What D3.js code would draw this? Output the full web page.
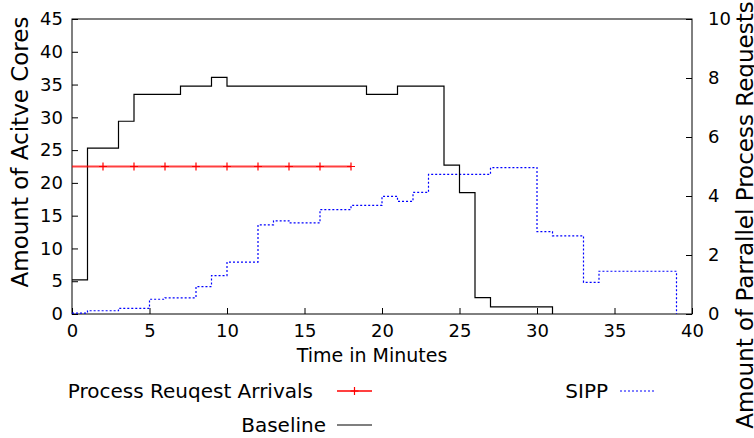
<!DOCTYPE html>
<html>
<head>
<meta charset="utf-8">
<script src="https://cdn.jsdelivr.net/npm/d3@7"></script>
<style>
  body { margin: 0; background: #fff; }
  svg text { font-family: "DejaVu Sans", sans-serif; fill: #000; }
</style>
</head>
<body>
<svg id="chart" width="754" height="438"></svg>
<script>
// minutes at which each step starts
var baselineTime = [0, 1, 3, 4, 7, 9, 10, 19, 21, 24, 25, 26, 27, 31];
var baselineCores = [5.2, 25.3, 29.4, 33.5, 34.75, 36.1, 34.75, 33.5, 34.75, 22.7, 18.5, 2.5, 1.1, 0];

var sippTime = [0, 1, 3, 5, 6, 8, 9, 10, 12, 13, 14, 16, 18, 20, 21, 22, 23, 27, 30, 31, 33, 34, 39];
var sippRequests = [0.03, 0.11, 0.19, 0.5, 0.55, 0.93, 1.3, 1.76, 3.02, 3.16, 3.09, 3.54, 3.68, 3.99, 3.82, 4.12, 4.73, 4.96, 2.79, 2.65, 1.07, 1.45, 0];

var arrivalTime = [0, 2, 4, 6, 8, 10, 12, 14, 16, 18];
var arrivalRequests = [5, 5, 5, 5, 5, 5, 5, 5, 5, 5];

var xTicks = [0, 5, 10, 15, 20, 25, 30, 35, 40];
var yTicks = [0, 5, 10, 15, 20, 25, 30, 35, 40, 45];
var y2Ticks = [0, 2, 4, 6, 8, 10];

var svg = d3.select("#chart");
var plotLeft = 72, plotRight = 692, plotTop = 19, plotBottom = 314;

var x = d3.scaleLinear().domain([0, 40]).range([plotLeft, plotRight]);
var y = d3.scaleLinear().domain([0, 45]).range([plotBottom, plotTop]);
var y2 = d3.scaleLinear().domain([0, 10]).range([plotBottom, plotTop]);

// axes, ticks pointing inward like gnuplot
var xAxis = svg.append("g")
    .attr("transform", "translate(0," + plotBottom + ")")
    .call(d3.axisBottom(x).tickValues(xTicks).tickSize(-6).tickPadding(10));
var yAxis = svg.append("g")
    .attr("transform", "translate(" + plotLeft + ",0)")
    .call(d3.axisLeft(y).tickValues(yTicks).tickSize(-6).tickPadding(9));
var y2Axis = svg.append("g")
    .attr("transform", "translate(" + plotRight + ",0)")
    .call(d3.axisRight(y2).tickValues(y2Ticks).tickSize(-6).tickPadding(16));

[xAxis, yAxis, y2Axis].forEach(function (g) {
    g.select(".domain").remove();
    g.selectAll(".tick line").attr("stroke", "#000");
    g.selectAll(".tick text").attr("font-size", 18).attr("font-family", "DejaVu Sans");
});

svg.append("rect")
    .attr("x", plotLeft).attr("y", plotTop)
    .attr("width", plotRight - plotLeft).attr("height", plotBottom - plotTop)
    .attr("fill", "none").attr("stroke", "#000").attr("stroke-width", 1);

// series
var baseLine = d3.line()
    .x(function (d) { return x(d[0]); })
    .y(function (d) { return y(d[1]); })
    .curve(d3.curveStepAfter);
var sippLine = d3.line()
    .x(function (d) { return x(d[0]); })
    .y(function (d) { return y2(d[1]); })
    .curve(d3.curveStepAfter);
var arrLine = d3.line()
    .x(function (d) { return x(d[0]); })
    .y(function (d) { return y2(d[1]); });

svg.append("path")
    .datum(d3.zip(sippTime, sippRequests))
    .attr("d", sippLine)
    .attr("fill", "none")
    .attr("stroke", "#0000ff")
    .attr("stroke-width", 1.2)
    .attr("stroke-dasharray", "2,2");

svg.append("path")
    .datum(d3.zip(baselineTime, baselineCores))
    .attr("d", baseLine)
    .attr("fill", "none")
    .attr("stroke", "#000")
    .attr("stroke-width", 1.2);

var arrivals = d3.zip(arrivalTime, arrivalRequests);
svg.append("path")
    .datum(arrivals)
    .attr("d", arrLine)
    .attr("fill", "none")
    .attr("stroke", "#ff0000")
    .attr("stroke-opacity", 0.75)
    .attr("stroke-width", 1.8);

function plus(g, cx, cy, s) {
    g.append("path")
        .attr("d", "M" + (cx - s) + "," + cy + "h" + (2 * s) + "M" + cx + "," + (cy - s) + "v" + (2 * s))
        .attr("stroke", "#ff0000")
        .attr("stroke-width", 1.2);
}
var marks = svg.append("g");
arrivals.forEach(function (d) {
    if (d[0] > 0) plus(marks, x(d[0]), y2(d[1]), 4);
});

// titles
svg.append("text")
    .attr("x", 372).attr("y", 355)
    .attr("text-anchor", "middle").attr("dominant-baseline", "central")
    .attr("font-size", 19)
    .text("Time in Minutes");

svg.append("text")
    .attr("transform", "translate(20,152) rotate(-90)")
    .attr("text-anchor", "middle").attr("dominant-baseline", "central")
    .attr("font-size", 23)
    .text("Amount of Acitve Cores");

svg.append("text")
    .attr("transform", "translate(745,215) rotate(-90)")
    .attr("text-anchor", "middle").attr("dominant-baseline", "central")
    .attr("font-size", 23)
    .text("Amount of Parrallel Process Requests");

// legend
var legend = svg.append("g").attr("font-size", 20);
legend.append("text").attr("x", 313).attr("y", 391)
    .attr("text-anchor", "end").attr("dominant-baseline", "central")
    .text("Process Reuqest Arrivals");
legend.append("line").attr("x1", 337).attr("x2", 372).attr("y1", 391).attr("y2", 391)
    .attr("stroke", "#ff0000").attr("stroke-opacity", 0.75).attr("stroke-width", 1.8);
plus(legend, 354.5, 391, 4);

legend.append("text").attr("x", 326).attr("y", 425)
    .attr("text-anchor", "end").attr("dominant-baseline", "central")
    .text("Baseline");
legend.append("line").attr("x1", 337).attr("x2", 372).attr("y1", 425).attr("y2", 425)
    .attr("stroke", "#000").attr("stroke-width", 1.2);

legend.append("text").attr("x", 608).attr("y", 391)
    .attr("text-anchor", "end").attr("dominant-baseline", "central")
    .text("SIPP");
legend.append("line").attr("x1", 620).attr("x2", 655).attr("y1", 391).attr("y2", 391)
    .attr("stroke", "#0000ff").attr("stroke-width", 1.2).attr("stroke-dasharray", "2,2");
</script>
</body>
</html>
